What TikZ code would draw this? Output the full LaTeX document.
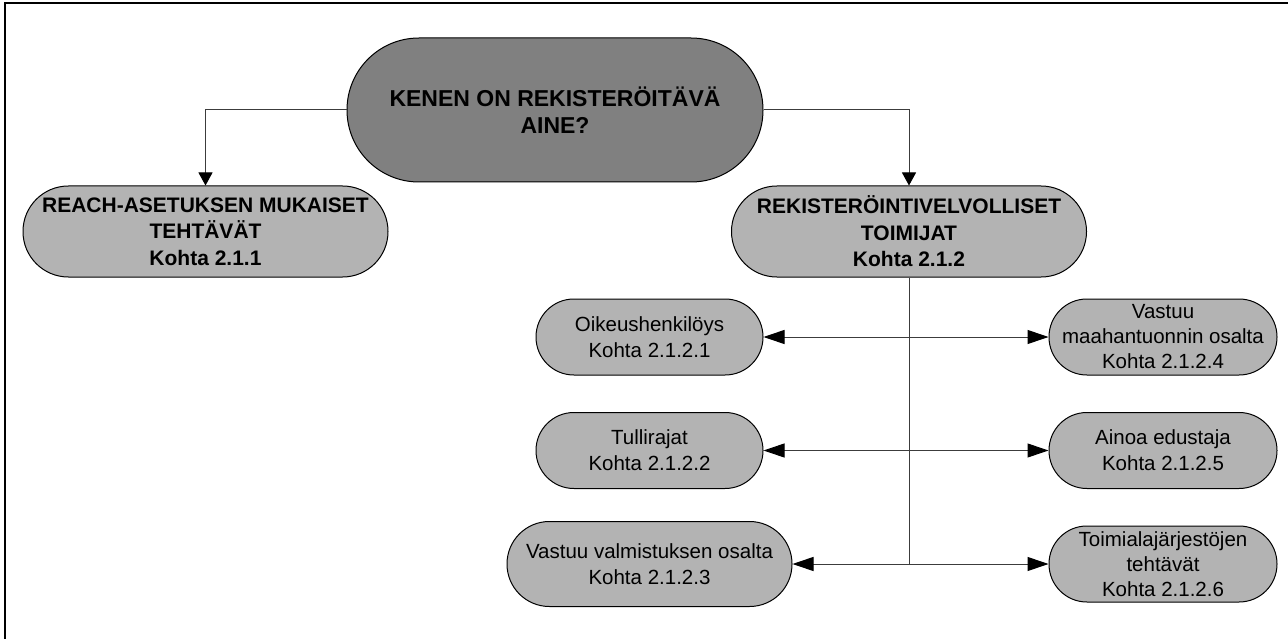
\documentclass[tikz,border=0pt]{standalone}
\usepackage{fontspec}
\setmainfont{Liberation Sans}
\usetikzlibrary{arrows.meta}
\definecolor{darkfill}{RGB}{128,128,128}
\definecolor{lightfill}{RGB}{179,179,179}
\definecolor{linegray}{RGB}{60,60,60}
\begin{document}
\begin{tikzpicture}[x=1pt,y=-1pt,
  box/.style={draw=black, line width=1pt, rectangle, align=center, inner sep=0pt,
    fill=lightfill, font=\fontsize{20.5}{26}\selectfont},
  boldbox/.style={box, minimum height=91pt, rounded corners=45.4pt,
    font=\fontsize{21}{26.5}\selectfont\bfseries},
  smallbox/.style={box, minimum width=228pt, minimum height=76pt, rounded corners=37.9pt},
  tallbox/.style={smallbox, font=\fontsize{20.5}{25}\selectfont},
  conn/.style={draw=linegray, line width=1pt},
  downarrow/.style={conn, -{Triangle[length=13pt,width=14pt,color=black]}},
  botharrow/.style={conn, {Triangle[length=21pt,width=14pt,color=black]}-{Triangle[length=21pt,width=14pt,color=black]}}
]
\useasboundingbox (0,0) rectangle (1288,639);
\fill[white] (0,0) rectangle (1288,639);
\draw[line width=2.5pt] (5,639) -- (5,3) -- (1288,3);

\node[box, fill=darkfill, minimum width=416pt, minimum height=144pt, rounded corners=71.9pt,
  font=\fontsize{23}{27}\selectfont\bfseries]
  (main) at (555,110) {KENEN ON REKISTERÖITÄVÄ\\AINE?};

\node[boldbox, minimum width=365pt] (reach) at (205.5,231.5)
  {REACH-ASETUKSEN MUKAISET\\TEHTÄVÄT\\Kohta 2.1.1};

\node[boldbox, minimum width=355pt] (rek) at (909,231.5)
  {REKISTERÖINTIVELVOLLISET\\TOIMIJAT\\Kohta 2.1.2};

\node[smallbox, minimum width=227pt] (l1) at (649.5,337) {Oikeushenkilöys\\Kohta 2.1.2.1};
\node[smallbox, minimum width=227pt] (l2) at (649.5,450.5) {Tullirajat\\Kohta 2.1.2.2};
\node[smallbox, minimum width=285pt, minimum height=85pt, rounded corners=42.4pt] (l3) at (649.5,564) {Vastuu valmistuksen osalta\\Kohta 2.1.2.3};

\node[tallbox] (r1) at (1163,337) {Vastuu\\maahantuonnin osalta\\Kohta 2.1.2.4};
\node[smallbox] (r2) at (1163,450.5) {Ainoa edustaja\\Kohta 2.1.2.5};
\node[tallbox] (r3) at (1163,564) {Toimialajärjestöjen\\tehtävät\\Kohta 2.1.2.6};

\draw[downarrow] (main.west) -| (reach.north);
\draw[downarrow] (main.east) -| (rek.north);
\draw[conn] (rek.south) -- (rek.south |- l3.east);
\draw[botharrow] (l1.east) -- (r1.west);
\draw[botharrow] (l2.east) -- (r2.west);
\draw[botharrow] (l3.east) -- (r3.west);
\end{tikzpicture}
\end{document}
